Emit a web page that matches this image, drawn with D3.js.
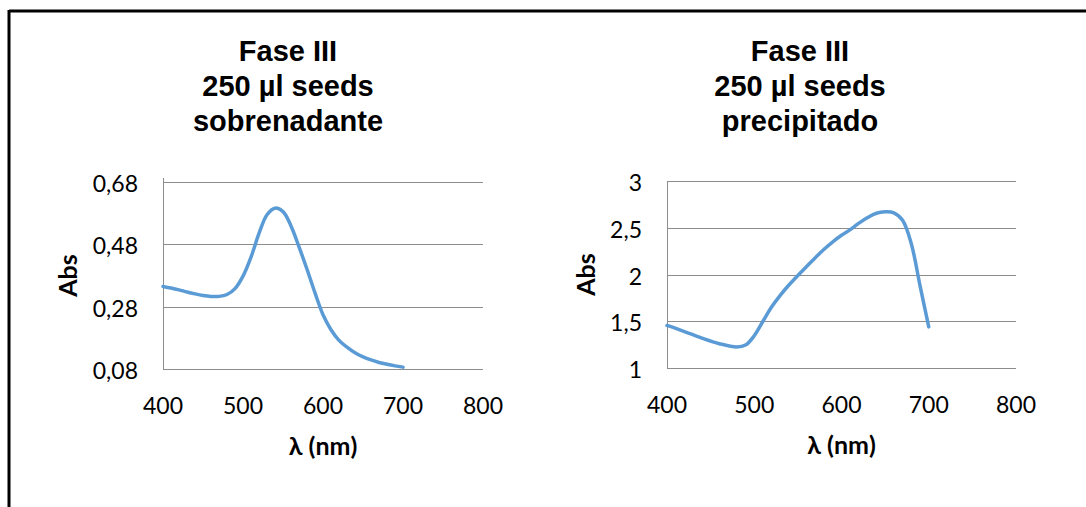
<!DOCTYPE html>
<html>
<head>
<meta charset="utf-8">
<script src="https://cdn.jsdelivr.net/npm/d3@7"></script>
<style>
  body { margin: 0; background: #fff; }
  .tick-label { font-family: Lato, "Open Sans", sans-serif; font-size: 23px; fill: #000; }
  .axis-title { font-family: Lato, "Open Sans", sans-serif; font-size: 25px; font-weight: bold; fill: #000; }
  .chart-title { font-family: "Liberation Sans", Arial, sans-serif; font-size: 29px; font-weight: bold; fill: #000; }
  .plot-line { fill: none; stroke: #5b9bd5; stroke-width: 3.5; stroke-linejoin: round; stroke-linecap: round; }
  .grid { stroke: #8c8c8c; stroke-width: 1; shape-rendering: crispEdges; }
</style>
</head>
<body>
<svg id="chart" width="1086" height="507"></svg>
<script>
// data
const nmSobre = [400, 410, 420, 430, 440, 450, 460, 470, 480, 490, 500, 510, 520, 530, 540, 550, 560, 570, 580, 590, 600, 610, 620, 630, 640, 650, 660, 670, 680, 690, 700];
const absSobre = [0.345, 0.340, 0.334, 0.327, 0.321, 0.316, 0.313, 0.313, 0.319, 0.338, 0.378, 0.439, 0.515, 0.575, 0.596, 0.585, 0.539, 0.472, 0.400, 0.324, 0.254, 0.206, 0.172, 0.150, 0.132, 0.119, 0.109, 0.101, 0.095, 0.090, 0.086];

const nmPrec = [400, 420, 440, 460, 480, 490, 500, 510, 520, 530, 540, 550, 560, 570, 580, 590, 600, 610, 620, 630, 640, 650, 660, 670, 680, 690, 700];
const absPrec = [1.455, 1.39, 1.32, 1.26, 1.225, 1.245, 1.345, 1.50, 1.655, 1.78, 1.89, 1.99, 2.085, 2.18, 2.27, 2.35, 2.42, 2.48, 2.55, 2.61, 2.655, 2.67, 2.66, 2.58, 2.33, 1.88, 1.44];

const xTicks = [400, 500, 600, 700, 800];
const yTicksSobre = [0.08, 0.28, 0.48, 0.68];
const yTicksPrec = [1, 1.5, 2, 2.5, 3];

const titleSobre = ["Fase III", "250 µl seeds", "sobrenadante"];
const titlePrec = ["Fase III", "250 µl seeds", "precipitado"];

const svg = d3.select("#chart");

// outer frame (top + left only visible)
svg.append("line").attr("x1", 9).attr("x2", 1086).attr("y1", 11).attr("y2", 11)
  .attr("stroke", "#000").attr("stroke-width", 3);
svg.append("line").attr("x1", 9).attr("x2", 9).attr("y1", 10).attr("y2", 507)
  .attr("stroke", "#000").attr("stroke-width", 3);

const fmt = (d) => String(d).replace(".", ",");

const drawChart = (opt) => {
  const xScale = d3.scaleLinear().domain([400, 800]).range([opt.left, opt.right]);
  const yScale = d3.scaleLinear().domain(opt.yDomain).range([opt.bottom, opt.top]);
  const g = svg.append("g");

  // gridlines
  g.selectAll(".grid-y")
    .data(opt.yTicks)
    .enter()
    .append("line")
    .attr("class", "grid")
    .attr("x1", opt.left)
    .attr("x2", opt.right)
    .attr("y1", (d) => Math.round(yScale(d)) + 0.5)
    .attr("y2", (d) => Math.round(yScale(d)) + 0.5);

  // y axis line
  g.append("line")
    .attr("class", "grid")
    .attr("x1", opt.left + 0.5)
    .attr("x2", opt.left + 0.5)
    .attr("y1", opt.top - opt.overshoot)
    .attr("y2", opt.bottom + 0.5);

  // y tick labels
  g.selectAll(".ylab")
    .data(opt.yTicks)
    .enter()
    .append("text")
    .attr("class", "tick-label")
    .attr("text-anchor", "end")
    .attr("dominant-baseline", "central")
    .attr("x", opt.left - 25)
    .attr("y", (d) => yScale(d) + 1)
    .text(fmt);

  // x tick labels
  g.selectAll(".xlab")
    .data(xTicks)
    .enter()
    .append("text")
    .attr("class", "tick-label")
    .attr("text-anchor", "middle")
    .attr("dominant-baseline", "central")
    .attr("x", (d) => xScale(d))
    .attr("y", opt.bottom + 36)
    .text((d) => d);

  // axis titles
  g.append("text")
    .attr("class", "axis-title")
    .attr("text-anchor", "middle")
    .attr("dominant-baseline", "central")
    .attr("x", (opt.left + opt.right) / 2)
    .attr("y", opt.bottom + 76)
    .text("λ (nm)");
  g.append("text")
    .attr("class", "axis-title")
    .attr("text-anchor", "middle")
    .attr("dominant-baseline", "central")
    .attr("transform", `translate(${opt.absX},${(opt.top + opt.bottom) / 2}) rotate(-90)`)
    .text("Abs");

  // title
  g.selectAll(".title")
    .data(opt.title)
    .enter()
    .append("text")
    .attr("class", "chart-title")
    .attr("text-anchor", "middle")
    .attr("x", opt.titleX)
    .attr("y", (d, i) => 61 + i * 35)
    .text((d) => d);

  // curve
  const line = d3.line()
    .x((d) => xScale(d[0]))
    .y((d) => yScale(d[1]))
    .curve(d3.curveCatmullRom.alpha(0.5));
  g.append("path")
    .attr("class", "plot-line")
    .attr("d", line(d3.zip(opt.xs, opt.ys)));
};

drawChart({
  left: 163, right: 483, top: 182, bottom: 369, overshoot: 4,
  yDomain: [0.08, 0.68], yTicks: yTicksSobre,
  xs: nmSobre, ys: absSobre,
  absX: 67, titleX: 288, title: titleSobre
});

drawChart({
  left: 667, right: 1016, top: 181, bottom: 368, overshoot: 0,
  yDomain: [1, 3], yTicks: yTicksPrec,
  xs: nmPrec, ys: absPrec,
  absX: 585, titleX: 800, title: titlePrec
});
</script>
</body>
</html>
